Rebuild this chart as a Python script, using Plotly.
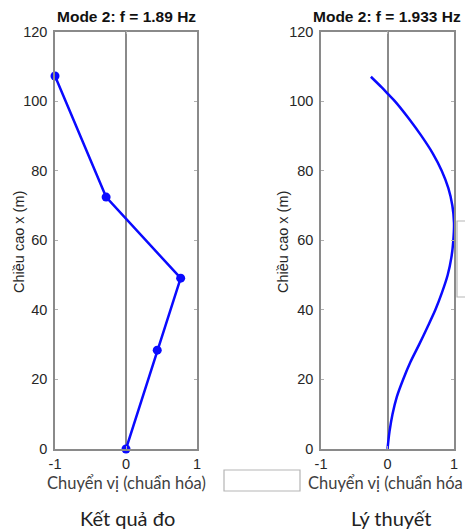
import plotly.graph_objects as go

# Measured mode shape (left panel)
meas_height = [0, 28.4, 49.1, 72.4, 107.2]
meas_disp = [0.0, 0.44, 0.77, -0.28, -1.0]

# Theoretical mode shape (right panel)
theo_height = [0, 5, 10, 15, 20, 25, 30, 35, 40, 45, 50, 55, 60, 65, 70, 75, 80, 85, 90, 95, 100, 102, 104, 107]
theo_disp = [0.0, 0.03, 0.075, 0.14, 0.235, 0.345, 0.475, 0.60, 0.72, 0.82, 0.905, 0.96, 0.99, 1.0, 0.975, 0.915, 0.815, 0.68, 0.51, 0.32, 0.11, 0.01, -0.09, -0.25]

titles = ["Mode 2: f = 1.89 Hz", "Mode 2: f = 1.933 Hz"]
y_title = "Chiều cao x (m)"
x_title_left = "Chuyển vị (chuẩn hóa)"
x_title_right = "Chuyển vị (chuẩn hóa"
captions = ["Kết quả đo", "Lý thuyết"]
x_ticks = [-1, 0, 1]
y_ticks = [0, 20, 40, 60, 80, 100, 120]

W, H = 465, 529
BLUE = "#0a0aff"
TICKFONT = dict(family="Liberation Sans, Arial", size=14.5, color="#262626")

def px_x(p):
    return p / W

def px_y(p):
    return 1 - p / H

fig = go.Figure()
fig.add_trace(go.Scatter(x=meas_disp, y=meas_height, mode="lines+markers",
                         line=dict(color=BLUE, width=2.5),
                         marker=dict(color=BLUE, size=9), cliponaxis=False,
                         xaxis="x", yaxis="y", showlegend=False))
fig.add_trace(go.Scatter(x=theo_disp, y=theo_height, mode="lines",
                         line=dict(color=BLUE, width=2.5, shape="spline", smoothing=0.8),
                         xaxis="x2", yaxis="y2", showlegend=False))

ydom = [px_y(449), px_y(31.5)]
common_x = dict(range=[-1, 1], tickvals=x_ticks, ticktext=["-1", "0", "1"],
                showgrid=False, zeroline=True, zerolinecolor="#8a8a8a", zerolinewidth=2,
                showline=True, linecolor="#8a8a8a", linewidth=1.5, mirror="ticks",
                ticks="inside", ticklen=3, tickcolor="#b0b0b0", tickfont=TICKFONT,
                ticklabelstandoff=1, automargin=False)
common_y = dict(range=[0, 120], tickvals=y_ticks, showgrid=False, zeroline=False,
                showline=True, linecolor="#8a8a8a", linewidth=1.5, mirror="ticks",
                ticks="inside", ticklen=3, tickcolor="#b0b0b0", tickfont=TICKFONT,
                ticklabelstandoff=3, automargin=False)

fig.update_layout(
    width=W, height=H,
    margin=dict(l=0, r=0, t=0, b=0),
    paper_bgcolor="white", plot_bgcolor="white",
    xaxis=dict(domain=[px_x(55), px_x(197)], anchor="y", **common_x),
    yaxis=dict(domain=ydom, anchor="x", **common_y),
    xaxis2=dict(domain=[px_x(321), px_x(454)], anchor="y2", **common_x),
    yaxis2=dict(domain=ydom, anchor="x2", **common_y),
)

ann = []
# titles
for cx, t in [(126, titles[0]), (387, titles[1])]:
    ann.append(dict(x=px_x(cx), y=px_y(17), xref="paper", yref="paper", text="<b>%s</b>" % t,
                    showarrow=False, xanchor="center", yanchor="middle",
                    font=dict(family="Liberation Sans, Arial", size=15.5, color="#111")))
# y titles
for cx in [19, 283]:
    ann.append(dict(x=px_x(cx), y=px_y(242), xref="paper", yref="paper", text=y_title,
                    showarrow=False, textangle=-90, xanchor="center", yanchor="middle",
                    font=dict(family="Liberation Sans, Arial", size=14.5, color="#262626")))
# x titles
ann.append(dict(x=px_x(126), y=px_y(483), xref="paper", yref="paper", text=x_title_left,
                showarrow=False, xanchor="center", yanchor="middle",
                font=dict(family="Lato, Liberation Sans", size=16.5, color="#404040")))
ann.append(dict(x=px_x(306), y=px_y(483), xref="paper", yref="paper", text=x_title_right,
                showarrow=False, xanchor="left", yanchor="middle",
                font=dict(family="Lato, Liberation Sans", size=16.5, color="#404040")))
# captions
for cx, t in [(127, captions[0]), (391, captions[1])]:
    ann.append(dict(x=px_x(cx), y=px_y(518), xref="paper", yref="paper", text=t,
                    showarrow=False, xanchor="center", yanchor="middle",
                    font=dict(family="Lato, Liberation Sans", size=20, color="#222")))
fig.update_layout(annotations=ann)

shapes = [
    dict(type="rect", xref="paper", yref="paper", x0=px_x(224), x1=px_x(300),
         y0=px_y(491), y1=px_y(470), line=dict(color="#b5b5b5", width=1.2), fillcolor="white"),
    dict(type="rect", xref="paper", yref="paper", x0=px_x(457), x1=px_x(470),
         y0=px_y(297), y1=px_y(221), line=dict(color="#b5b5b5", width=1.2), fillcolor="white"),
]
fig.update_layout(shapes=shapes)

fig.write_html("out.html")
